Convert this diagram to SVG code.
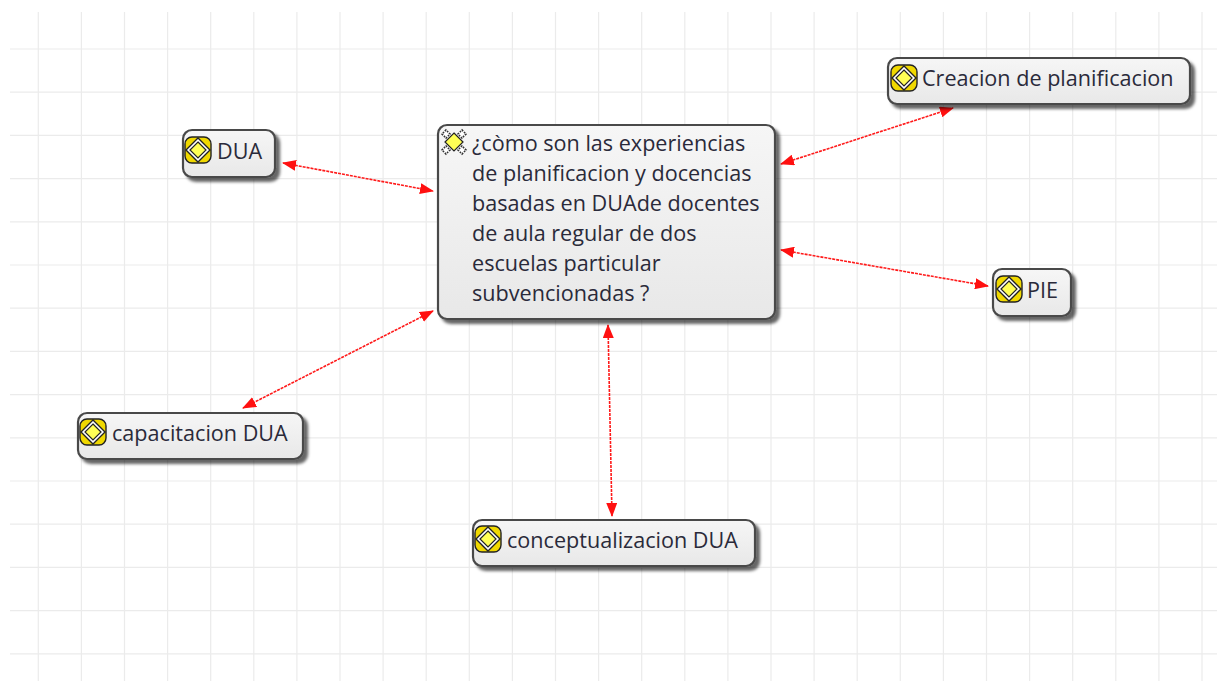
<svg xmlns="http://www.w3.org/2000/svg" width="1217" height="681" viewBox="0 0 1217 681">
<style>
.g{stroke:#ebebeb;stroke-width:1.2;fill:none}
.c{stroke:#ff1a1a;stroke-width:1.6;stroke-dasharray:3 1;fill:none;marker-start:url(#ah);marker-end:url(#ah)}
.b{fill:url(#nf);stroke:#4a4a4a;stroke-width:2.2;filter:url(#sh)}
.t{font-family:"Open Sans","Noto Sans","DejaVu Sans",sans-serif;font-size:21.6px;fill:#2a2a3a}
.ic{fill:#f0d800;stroke:#222;stroke-width:1.4}
.d{fill:#ffff55;stroke:#222;stroke-width:1.2}
.r{fill:#fff;stroke:#222;stroke-width:1.4}
.k{fill:none;stroke:#333;stroke-width:3.2;stroke-dasharray:2 1.6}
</style>
<defs>
<linearGradient id="nf" x1="0" y1="0" x2="0" y2="1"><stop offset="0" stop-color="#f6f6f6"/><stop offset="1" stop-color="#e8e8e8"/></linearGradient>
<filter id="sh" x="-10%" y="-20%" width="125%" height="150%"><feDropShadow dx="4" dy="4" stdDeviation="1.8" flood-color="#000" flood-opacity="0.6"/></filter>
<marker id="ah" markerUnits="userSpaceOnUse" markerWidth="14" markerHeight="11" refX="13" refY="5.5" orient="auto-start-reverse"><path d="M0 0L14 5.5L0 11Z" fill="#ff1010"/></marker>
<g id="yi"><rect x="-13" y="-13" width="26" height="26" rx="7" class="ic"/><path d="M0-12L12 0L0 12L-12 0Z" class="r"/><path d="M0-8L8 0L0 8L-8 0Z" class="d"/></g>
<g id="mi"><path d="M-8-12L-12-8L-8-4L-4-8ZM8-12L12-8L8-4L4-8ZM-8 12L-12 8L-8 4L-4 8ZM8 12L12 8L8 4L4 8Z" fill="#fff" stroke="#333" stroke-width="1.6" stroke-dasharray="1.6 1.2"/><path d="M0-9L9 0L0 9L-9 0Z" class="d"/></g>
</defs>
<rect width="1217" height="681" fill="#fff"/>
<g id="grid">
<path class="g" d="M38.3 12V681M81.4 12V681M124.5 12V681M167.6 12V681M210.7 12V681M253.8 12V681M296.9 12V681M340 12V681M383.1 12V681M426.2 12V681M469.3 12V681M512.4 12V681M555.5 12V681M598.6 12V681M641.7 12V681M684.8 12V681M727.9 12V681M771 12V681M814.1 12V681M857.2 12V681M900.3 12V681M943.4 12V681M986.5 12V681M1029.6 12V681M1072.7 12V681M1115.8 12V681M1158.9 12V681M1202 12V681"/>
<path class="g" d="M10 49H1217M10 92.2H1217M10 135.4H1217M10 178.6H1217M10 221.8H1217M10 265H1217M10 308.2H1217M10 351.4H1217M10 394.6H1217M10 437.8H1217M10 481H1217M10 524.2H1217M10 567.4H1217M10 610.6H1217M10 653.8H1217"/>
</g>
<g id="connectors">
<path class="c" d="M283 163L433 191"/>
<path class="c" d="M781 164L953 108"/>
<path class="c" d="M781 250L988 286"/>
<path class="c" d="M433 311L243 408"/>
<path class="c" d="M608 325L612 516"/>
</g>
<g id="n-main">
<rect class="b" x="438" y="125" width="337" height="194" rx="9"/>
<use href="#mi" x="454" y="142"/>
<g class="t"><text x="472" y="151">¿còmo son las experiencias</text><text x="472" y="181">de planificacion y docencias</text><text x="472" y="211">basadas en DUAde docentes</text><text x="472" y="241">de aula regular de dos</text><text x="472" y="271">escuelas particular</text><text x="472" y="301">subvencionadas ?</text></g>
</g>
<g id="n-dua">
<rect class="b" x="183" y="130" width="92" height="47" rx="9"/>
<use href="#yi" x="198" y="150"/>
<text class="t" x="217" y="159">DUA</text>
</g>
<g id="n-creacion">
<rect class="b" x="888" y="58" width="302" height="46" rx="9"/>
<use href="#yi" x="904" y="78"/>
<text class="t" x="922" y="86">Creacion de planificacion</text>
</g>
<g id="n-pie">
<rect class="b" x="993" y="269" width="78" height="47" rx="9"/>
<use href="#yi" x="1009" y="289"/>
<text class="t" x="1027" y="298">PIE</text>
</g>
<g id="n-capacitacion">
<rect class="b" x="78" y="413" width="225" height="46" rx="9"/>
<use href="#yi" x="93" y="432"/>
<text class="t" x="112" y="441">capacitacion DUA</text>
</g>
<g id="n-conceptualizacion">
<rect class="b" x="473" y="520" width="282" height="46" rx="9"/>
<use href="#yi" x="488" y="539"/>
<text class="t" x="507" y="548">conceptualizacion DUA</text>
</g>
</svg>
